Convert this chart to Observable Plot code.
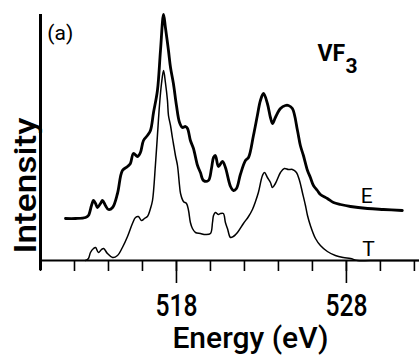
<!DOCTYPE html>
<html>
<head>
<meta charset="utf-8">
<script src="https://cdn.jsdelivr.net/npm/d3@7"></script>
<script src="https://cdn.jsdelivr.net/npm/@observablehq/plot@0.6"></script>
<style>
  html, body { margin: 0; padding: 0; background: #fff; }
  #chart svg { display: block; }
</style>
</head>
<body>
<div id="chart"></div>
<script>
// Experimental spectrum (E), thick line
const energyE = [511.47, 512.06, 512.65, 512.82, 513.0, 513.12, 513.24, 513.35, 513.53, 513.65, 513.82, 514.0, 514.24, 514.53, 514.82, 515.12, 515.29, 515.47, 515.71, 515.88, 516.06, 516.29, 516.47, 516.65, 516.88, 517.06, 517.24, 517.35, 517.53, 517.65, 517.82, 518.0, 518.18, 518.35, 518.53, 518.65, 518.82, 519.0, 519.24, 519.41, 519.59, 519.88, 520.06, 520.18, 520.29, 520.47, 520.71, 520.88, 521.18, 521.35, 521.53, 521.76, 522.06, 522.24, 522.53, 522.76, 522.94, 523.12, 523.35, 523.53, 523.65, 523.82, 524.12, 524.41, 524.59, 524.82, 525.12, 525.29, 525.47, 525.71, 525.88, 526.06, 526.29, 526.47, 526.88, 527.24, 527.65, 528.24, 529.24, 530.18, 531.29];
const intensityE = [42, 42, 43, 45, 55, 60, 57, 53, 57, 60, 55, 51, 53, 67, 90, 94, 97, 107, 104, 108, 120, 125, 130, 148, 170, 210, 246, 233, 210, 193, 177, 155, 138, 133, 134, 132, 120, 112, 95, 88, 80, 80, 92, 103, 105, 94, 99, 93, 74, 70, 72, 86, 100, 103, 125, 145, 160, 167, 157, 143, 137, 143, 152, 155, 155, 152, 130, 115, 105, 90, 83, 75, 70, 66, 62, 58, 56, 54, 52, 51, 50];

// Theoretical spectrum (T), thin line
const energyT = [512.65, 512.82, 512.94, 513.12, 513.24, 513.41, 513.59, 513.71, 513.94, 514.24, 514.53, 514.82, 515.12, 515.41, 515.59, 515.76, 515.94, 516.12, 516.29, 516.47, 516.59, 516.76, 516.88, 517.0, 517.12, 517.24, 517.35, 517.47, 517.53, 517.65, 517.76, 517.82, 517.94, 518.06, 518.18, 518.24, 518.41, 518.59, 518.71, 518.82, 518.94, 519.12, 519.41, 519.71, 520.0, 520.12, 520.18, 520.29, 520.47, 520.59, 520.76, 520.88, 521.0, 521.18, 521.35, 521.59, 521.94, 522.24, 522.47, 522.65, 522.82, 523.06, 523.18, 523.35, 523.53, 523.65, 523.82, 524.12, 524.35, 524.59, 524.82, 525.06, 525.24, 525.41, 525.59, 525.71, 525.88, 526.18, 526.47, 526.88, 527.35, 527.82, 528.24, 528.65, 529.41, 532.29];
const intensityT = [0, 2, 8, 12, 13, 8, 11, 12, 7, 3, 5, 13, 24, 37, 43, 44, 40, 42, 44, 52, 60, 95, 125, 155, 177, 190, 178, 160, 145, 135, 123, 117, 105, 95, 75, 67, 59, 57, 50, 38, 32, 28, 27, 26, 27, 38, 45, 48, 46, 47, 47, 38, 32, 23, 24, 28, 37, 44, 51, 59, 68, 85, 88, 83, 78, 73, 77, 88, 92, 91, 91, 88, 80, 68, 55, 45, 35, 22, 15, 9, 5, 3, 2, 0, 0, 0];

const minorTicks = [510, 512, 514, 516, 518, 520, 522, 524, 526, 528, 530, 532];
const majorTicks = [518, 528];
const tickLabels = ["518", "528"];

const xDomain = [510, 532.3];
const yDomain = [0, 246];

const seriesE = energyE.map((e, i) => ({energy: e, intensity: intensityE[i]}));
const seriesT = energyT.map((e, i) => ({energy: e, intensity: intensityT[i]}));

const curveLabels = [
  {text: "E", energy: 529.2, intensity: 58},
  {text: "T", energy: 529.3, intensity: 5}
];

const bigFont = "Roboto, 'DejaVu Sans', sans-serif";

const plot = Plot.plot({
  width: 419,
  height: 355,
  marginLeft: 40,
  marginRight: 0,
  marginTop: 14,
  marginBottom: 95,
  x: {domain: xDomain, axis: null},
  y: {domain: yDomain, axis: null},
  marks: [
    // axes
    Plot.ruleX([xDomain[0]], {y1: -10, y2: yDomain[1], stroke: "black", strokeWidth: 3}),
    Plot.ruleY([0], {x1: xDomain[0], x2: xDomain[1], stroke: "black", strokeWidth: 2}),
    Plot.ruleX(minorTicks, {y1: 0, y2: -11, stroke: "black", strokeWidth: 1.6}),
    Plot.ruleX(majorTicks, {y1: 0, y2: -23, stroke: "black", strokeWidth: 1.6}),
    Plot.text(majorTicks, {x: d => d, y: 0, text: (d, i) => tickLabels[i], dy: 55, lineAnchor: "bottom", textAnchor: "middle", fontSize: 31, fontWeight: 500, fontFamily: bigFont, fill: "black"}),
    Plot.text(["Energy (eV)"], {x: 522.35, y: 0, text: d => d, dy: 87, lineAnchor: "bottom", textAnchor: "middle", fontSize: 30, fontWeight: 500, fontFamily: bigFont, fill: "black"}),
    Plot.text(["Intensity"], {x: xDomain[0], y: 75, text: d => d, dx: -5, rotate: -90, lineAnchor: "bottom", textAnchor: "middle", fontSize: 32, fontWeight: 500, fontFamily: bigFont, fill: "black"}),
    // curves
    Plot.line(seriesT, {x: "energy", y: "intensity", stroke: "black", strokeWidth: 1.5, curve: "catmull-rom"}),
    Plot.line(seriesE, {x: "energy", y: "intensity", stroke: "black", strokeWidth: 2.8, curve: "catmull-rom"}),
    // annotations
    Plot.text(curveLabels, {x: "energy", y: "intensity", text: "text", lineAnchor: "bottom", textAnchor: "middle", fontSize: 21, fontFamily: bigFont, fill: "black"}),
    Plot.text(["(a)"], {x: 510.4, y: 221, text: d => d, lineAnchor: "bottom", textAnchor: "start", fontSize: 21, fontFamily: bigFont, fill: "black"}),
    Plot.text(["VF"], {x: 526.3, y: 200, text: d => d, lineAnchor: "bottom", textAnchor: "start", fontSize: 23, fontWeight: "bold", fontFamily: bigFont, fill: "black"}),
    Plot.text(["3"], {x: 527.95, y: 188, text: d => d, lineAnchor: "bottom", textAnchor: "start", fontSize: 21, fontWeight: "bold", fontFamily: bigFont, fill: "black"})
  ]
});

// Narrow the large labels to match the condensed lettering of the original
const narrowWidths = {"518": 42, "528": 42, "Energy (eV)": 156, "Intensity": 136};
d3.select(plot).selectAll("text").each(function() {
  const t = this.textContent;
  if (narrowWidths[t] !== undefined) {
    this.setAttribute("textLength", narrowWidths[t]);
    this.setAttribute("lengthAdjust", "spacingAndGlyphs");
  }
});

document.getElementById("chart").appendChild(plot);
</script>
</body>
</html>
